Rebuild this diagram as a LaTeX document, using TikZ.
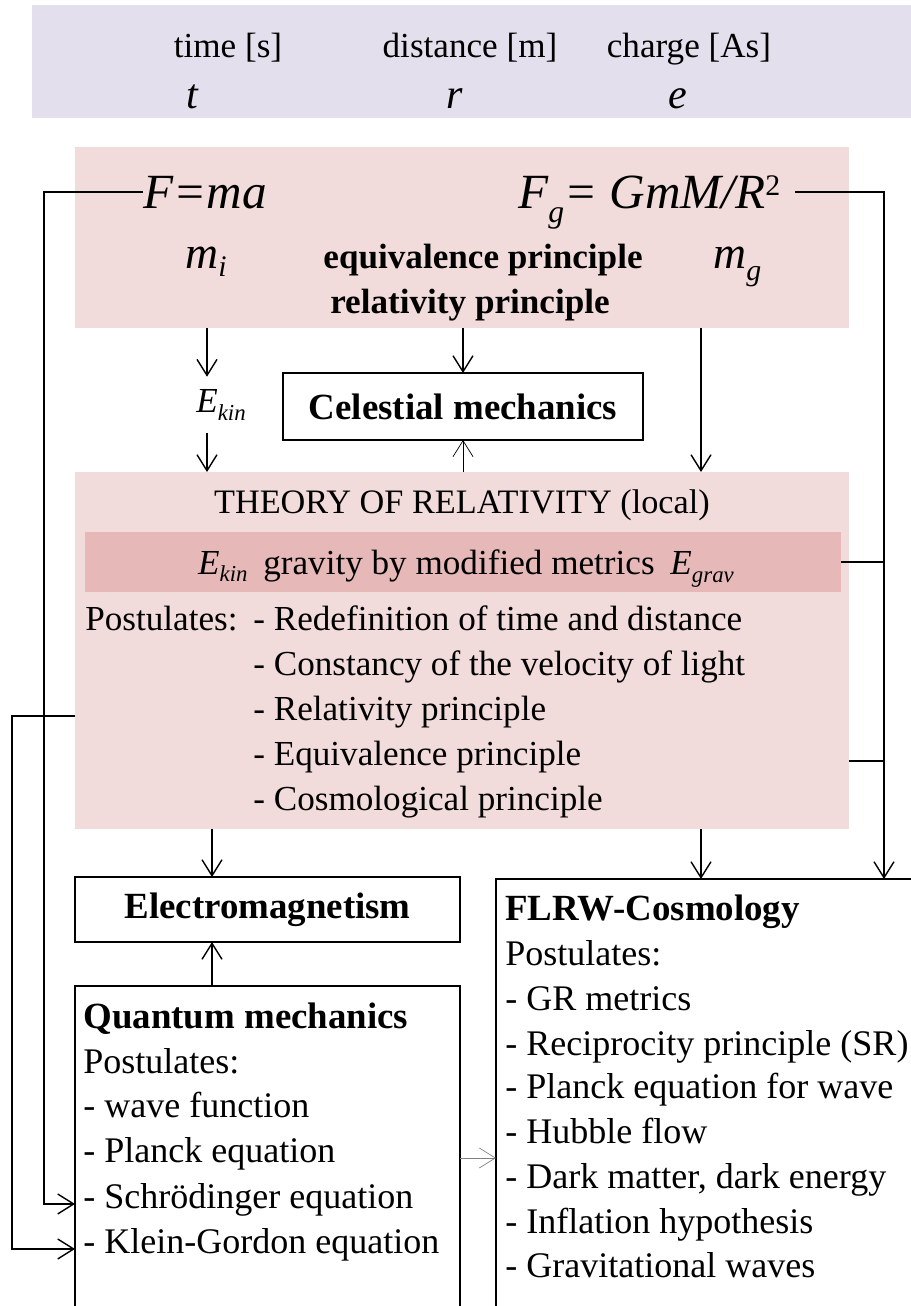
\documentclass[tikz,border=0pt]{standalone}
\usepackage{fontspec}
\setmainfont{Liberation Serif}
\usetikzlibrary{arrows.meta,fit}

\definecolor{lavender}{HTML}{E4DFEC}
\definecolor{rosebg}{HTML}{F2DCDB}
\definecolor{rosedark}{HTML}{E6B9B8}

\newcommand{\fsz}[1]{\fontsize{#1}{#1}\selectfont}
% lowered italic index: size, drop, text
\newcommand{\lowidx}[3]{\raisebox{-#2}{\fontsize{#1}{#1}\selectfont\itshape #3}}

\begin{document}
\begin{tikzpicture}[x=0.02cm,y=-0.02cm,
    lbl/.style={inner sep=0pt,anchor=base},
    lft/.style={inner sep=0pt,anchor=base west},
    band/.style={inner sep=0pt,outer sep=0pt,fill=#1},
    frame/.style={inner sep=0pt,outer sep=0pt,draw,line width=0.9pt},
    arr/.style={line width=0.8pt,-{Straight Barb[length=3.2mm,width=4mm]}},
    link/.style={line width=0.8pt},
    thin/.style={line width=0.4pt,-{Straight Barb[length=3.2mm,width=4mm]}},
    body/.style={font=\fsz{20.5pt}},
    head/.style={font=\fsz{21pt}\bfseries}]
  \useasboundingbox (0,0) rectangle (911,1306);
  \clip (0,0) rectangle (911,1306);

  % base units
  \node[band=lavender, fit={(32,5) (911,118)}] (units) {};
  \node[lbl,font=\fsz{20pt}] (ut) at (228,57) {time [s]};
  \node[lbl,font=\fsz{20pt}] (ur) at (470,57) {distance [m]};
  \node[lbl,font=\fsz{20pt}] (ue) at (689,57) {charge [As]};
  \node[lbl,font=\fsz{24pt}\itshape] (st) at (192,108) {t};
  \node[lbl,font=\fsz{24pt}\itshape] (sr) at (455,108) {r};
  \node[lbl,font=\fsz{24pt}\itshape] (se) at (678,108) {e};

  % Newton: inertial and gravitational mass
  \node[band=rosebg, fit={(75,147) (849,328)}] (mech) {};
  \node[lft,font=\fsz{28pt}\itshape] (fma) at (143,208) {F=ma};
  \node[lft,font=\fsz{28pt}\itshape] (fgrav) at (518,208)
    {F\lowidx{18pt}{8.5pt}{g}= GmM/R\raisebox{7pt}{\fsz{17pt}\upshape 2}};
  \node[lft,font=\fsz{26pt}\itshape] (mi) at (185,268) {m\lowidx{17pt}{5pt}{i}};
  \node[lbl,font=\fsz{20pt}\bfseries] (eqp) at (483,268) {equivalence principle};
  \node[lft,font=\fsz{26pt}\itshape] (mg) at (713,268) {m\lowidx{17pt}{7pt}{g}};
  \node[lbl,font=\fsz{20pt}\bfseries] (relp) at (470,313) {relativity principle};

  \node[frame, minimum width=7.2cm, minimum height=1.34cm, head] (celest) at (463,406.5) {Celestial mechanics};
  \node[font=\fsz{20pt}\itshape, inner xsep=0pt, inner ysep=0.25cm] (ekin) at (221,405)
    {E\lowidx{13pt}{4.5pt}{kin}};

  % theory of relativity
  \node[band=rosebg, fit={(75,472) (849,829)}] (gr) {};
  \node[lbl,font=\fsz{19.5pt}] (grtitle) at (462,513) {THEORY OF RELATIVITY (local)};
  \node[band=rosedark, fit={(85,532) (841,592)}] (metric) {};
  \node[lbl,font=\fsz{20pt}] (metrictxt) at (466,574)
    {\textit{E}\lowidx{13pt}{4.5pt}{kin}\hspace{0.45em}gravity by modified metrics\hspace{0.45em}\textit{E}\lowidx{13pt}{5pt}{grav}};
  \node[lft,font=\fsz{20pt}] (grpost) at (85,630) {Postulates:};
  \node[lft,font=\fsz{20pt}] (gr1) at (253,630) {- Redefinition of time and distance};
  \node[lft,font=\fsz{20pt}] (gr2) at (253,675) {- Constancy of the velocity of light};
  \node[lft,font=\fsz{20pt}] (gr3) at (253,720) {- Relativity principle};
  \node[lft,font=\fsz{20pt}] (gr4) at (253,765) {- Equivalence principle};
  \node[lft,font=\fsz{20pt}] (gr5) at (253,810) {- Cosmological principle};

  % electromagnetism and quantum mechanics
  \node[frame, minimum width=7.7cm, minimum height=1.3cm, head] (em) at (267.5,909.5) {Electromagnetism};
  \node[frame, fit={(75,986) (460,1330)}] (qm) {};
  \node[lft,head] (qmhead) at (83,1028) {Quantum mechanics};
  \node[lft,body] (qmpost) at (83,1073) {Postulates:};
  \node[lft,body] (qm1) at (83,1117) {- wave function};
  \node[lft,body] (qm2) at (83,1162) {- Planck equation};
  \node[lft,body] (qm3) at (83,1208) {- Schrödinger equation};
  \node[lft,body] (qm4) at (83,1253) {- Klein-Gordon equation};

  % cosmology
  \node[frame, fit={(496,879) (960,1330)}] (flrw) {};
  \node[lft,head] (flrwhead) at (505,920) {FLRW-Cosmology};
  \node[lft,body] (flrwpost) at (505,965) {Postulates:};
  \node[lft,body] (fl1) at (505,1010) {- GR metrics};
  \node[lft,body] (fl2) at (505,1055) {- Reciprocity principle (SR)};
  \node[lft,body] (fl3) at (505,1098) {- Planck equation for wave};
  \node[lft,body] (fl4) at (505,1143) {- Hubble flow};
  \node[lft,body] (fl5) at (505,1188) {- Dark matter, dark energy};
  \node[lft,body] (fl6) at (505,1233) {- Inflation hypothesis};
  \node[lft,body] (fl7) at (505,1277) {- Gravitational waves};

  % lanes and columns for the connectors
  \coordinate (laneLL) at (12,0);
  \coordinate (laneL) at (44,0);
  \coordinate (laneR) at (884,0);
  \coordinate (colA) at (207,0);
  \coordinate (colB) at (463,0);
  \coordinate (colC) at (701,0);
  \coordinate (colD) at (212,0);

  \draw[arr] (colA |- mech.south) -- (colA |- ekin.north);
  \draw[arr] (colA |- ekin.south) -- (colA |- gr.north);
  \draw[arr] (colB |- mech.south) -- (celest.north);
  \draw[thin] (colB |- gr.north) -- (celest.south);
  \draw[arr] (colC |- mech.south) -- (colC |- gr.north);

  \draw[arr] (fma.west) -- (fma.west -| laneL) -- (laneL |- qm3.mid) -- (qm.west |- qm3.mid);
  \draw[arr] ([shift={(14,-16)}]fgrav.base east) -| (laneR |- flrw.north);
  \draw[link] (metric.east) -- (metric.east -| laneR);
  \draw[link] (gr.east |- gr4.mid) -- (laneR |- gr4.mid);
  \draw[arr] (gr.west |- gr3.mid) -- (gr3.mid -| laneLL) -- (laneLL |- qm4.mid) -- (qm.west |- qm4.mid);

  \draw[arr] (colD |- gr.south) -- (colD |- em.north);
  \draw[arr] (colD |- qm.north) -- (colD |- em.south);
  \draw[arr] (colC |- gr.south) -- (colC |- flrw.north);
  \draw[thin,gray] (qm.east |- qm2.mid) -- (flrw.west |- qm2.mid);
\end{tikzpicture}
\end{document}
